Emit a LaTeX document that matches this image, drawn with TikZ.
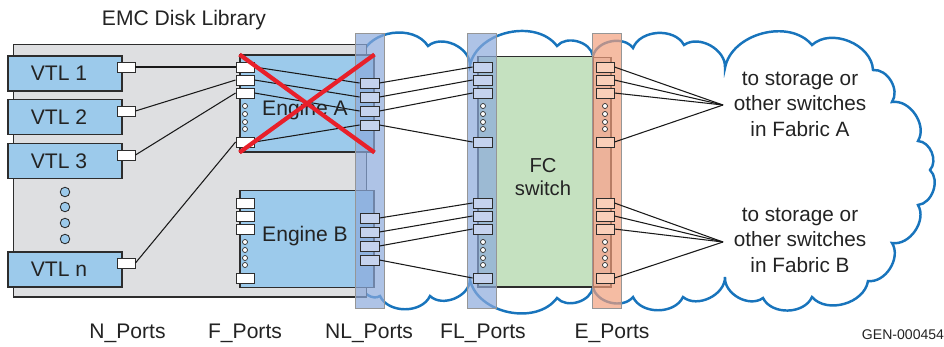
\documentclass[tikz,border=0pt]{standalone}
\usepackage{fontspec}
\setmainfont{Liberation Sans}
\usepackage{xcolor}
\usepackage{tikz}
\usetikzlibrary{positioning, backgrounds}
\definecolor{libgray}{RGB}{222,223,225}
\definecolor{vtlblue}{RGB}{156,202,235}
\definecolor{stripblue}{RGB}{140,170,220}
\definecolor{stripsalmon}{RGB}{242,160,125}
\definecolor{portblue}{RGB}{197,211,238}
\definecolor{portsalmon}{RGB}{250,207,185}
\definecolor{fcgreen}{RGB}{197,225,192}
\definecolor{cloudblue}{RGB}{24,116,188}
\definecolor{xred}{RGB}{232,32,42}
\definecolor{boxline}{RGB}{45,45,45}
\definecolor{stripline}{RGB}{150,150,150}
\definecolor{textgray}{RGB}{35,35,35}

\begin{document}
\begin{tikzpicture}[
        x=0.02cm, y=-0.02cm,
        every node/.style={inner sep=0pt},
        txt/.style={font=\fontsize{12}{14}\selectfont, text=textgray},
        box/.style={draw=boxline, line width=0.6pt},
        vtl/.style={box, fill=vtlblue, minimum width=2.28cm, minimum height=0.7cm,
                    label={[txt, xshift=-0.12cm]center:#1}},
        engine/.style={box, fill=vtlblue, minimum width=2.68cm, minimum height=1.94cm},
        strip/.style={draw=stripline, line width=0.5pt, fill opacity=0.7,
                      minimum width=0.58cm, minimum height=5.5cm},
        port/.style={draw=boxline, line width=0.5pt, minimum width=0.36cm, minimum height=0.2cm},
        nport/.style={port, fill=white},
        lport/.style={port, fill=portblue, minimum width=0.38cm},
        eport/.style={port, fill=portsalmon},
        sdot/.style={circle, draw=boxline, fill=white, line width=0.4pt, minimum size=0.1cm},
        bdot/.style={circle, draw=boxline, fill=vtlblue, line width=0.5pt, minimum size=0.19cm},
        wire/.style={line width=0.6pt, black!90},
        ftxt/.style={align=center, font=\fontsize{11.8}{14.5}\selectfont, text=textgray},
        cloudline/.style={draw=cloudblue, line width=1.4pt, fill=white},
        xline/.style={xred, line width=2.4pt}
      ]
        \useasboundingbox (0,0) rectangle (944,346);
        % Cloud
        \draw[cloudline] (362,55)
          \foreach \cx/\cy in {428/46, 470/65, 557/46, 593/56, 633/48, 684/45, 725/68,
                               812/45, 873/70, 892/102, 918/141, 930/170, 918/205, 892/243,
                               868/281, 812/297, 763/298, 725/277, 683/297, 633/297, 593/287,
                               557/298, 470/280, 430/296, 380/296, 362/285}
          { to[bend left=65] (\cx,\cy) } -- cycle;
        % Library
        \node[box, fill=libgray, minimum width=7.08cm, minimum height=5.06cm] (lib) at (190,170.5) {};
        \node[txt, anchor=base] (libtitle) at (184,25) {EMC Disk Library};
        \node[vtl=VTL 1] (vtl1) at (65,73.5) {};
        \node[vtl=VTL 2] (vtl2) at (65,117) {};
        \node[vtl=VTL 3] (vtl3) at (65,161) {};
        \node[vtl=VTL n] (vtln) at (65,269.5) {};
        \foreach \y in {192,207,223,239}
          \node[bdot] (vdot\y) at (65,\y) {};
        \node[engine] (engA) at (307,103.5) {};
        \node[engine] (engB) at (307,239) {};
        % Switch
        \node[box, fill=fcgreen, minimum width=2.3cm, minimum height=4.62cm] (fcsw) at (535.5,171.5) {};
        \node[box, fill=libgray, minimum width=0.36cm, minimum height=4.6cm] (ecard) at (602,172) {};
        % Port strips
        \node[strip, fill=stripblue] (nlstrip) at (369.5,170.5) {};
        \node[strip, fill=stripblue] (flstrip) at (482,170.5) {};
        \node[strip, fill=stripsalmon] (estrip) at (606.5,170.5) {};
        % Ports
        \node[nport] (np1) at (126,67) {};
        \node[nport] (np2) at (126,111) {};
        \node[nport] (np3) at (126,155) {};
        \node[nport] (npn) at (126,263) {};
        \foreach \i/\ya/\yb in {1/67/203, 2/80/216, 3/93/229, 4/142/278} {
          \node[nport] (fa\i) at (245,\ya) {};
          \node[nport] (fb\i) at (245,\yb) {};
          \node[lport] (fla\i) at (482.5,\ya) {};
          \node[lport] (flb\i) at (482.5,\yb) {};
          \node[eport] (ea\i) at (605,\ya) {};
          \node[eport] (eb\i) at (605,\yb) {};
        }
        \foreach \i/\ya/\yb in {1/83/218, 2/97/232, 3/111/246, 4/125/260} {
          \node[lport] (nla\i) at (369.5,\ya) {};
          \node[lport] (nlb\i) at (369.5,\yb) {};
        }
        \foreach \y in {106,114,122,129} {
          \node[sdot] (fda\y) at (245,\y) {};
          \node[sdot] (fdb\y) at (245,\y+136) {};
          \node[sdot] (flda\y) at (483,\y) {};
          \node[sdot] (fldb\y) at (483,\y+136) {};
          \node[sdot] (eda\y) at (605,\y) {};
          \node[sdot] (edb\y) at (605,\y+136) {};
        }
        \coordinate (fanA) at (723,105);
        \coordinate (fanB) at (723,242);
        % Edges
        \draw[wire, line width=1pt] (np1.east) -- (fa1.west);
        \draw[wire] (np2.east) -- (fa2.west);
        \draw[wire] (np3.east) -- (fa3.west);
        \draw[wire] (npn.east) -- (fa4.west);
        \foreach \i in {1,...,4} {
          \draw[wire] (fa\i.east) -- (nla\i.west);
          \draw[wire] (nla\i.east) -- (fla\i.west);
          \draw[wire] (nlb\i.east) -- (flb\i.west);
          \draw[wire] (ea\i.east) -- (fanA);
          \draw[wire] (eb\i.east) -- (fanB);
        }
        % Labels
        \node[txt] (engAlbl) at (305,110) {Engine A};
        \node[txt] (engBlbl) at (305,236) {Engine B};
        \node[txt, align=center, font=\fontsize{11.5}{13}\selectfont] (fclbl) at (543,177) {FC\\switch};
        \node[ftxt] (fabA) at (800,104) {to storage or\\other switches\\in Fabric A};
        \node[ftxt] (fabB) at (800,240) {to storage or\\other switches\\in Fabric B};
        \node[txt, anchor=base] (nlbl) at (127.5,338) {N\_Ports};
        \node[txt, anchor=base] (flbl) at (245,338) {F\_Ports};
        \node[txt, anchor=base] (nllbl) at (369,338) {NL\_Ports};
        \node[txt, anchor=base] (fllbl) at (483,338) {FL\_Ports};
        \node[txt, anchor=base] (elbl) at (612,338) {E\_Ports};
        \node[anchor=base, font=\fontsize{8}{9}\selectfont, text=textgray] (genlbl) at (903,339) {GEN-000454};
        % Failed engine
        \draw[xline] (engA.north west) -- (engA.south east);
        \draw[xline] (engA.south west) -- (engA.north east);
      \end{tikzpicture}
\end{document}
